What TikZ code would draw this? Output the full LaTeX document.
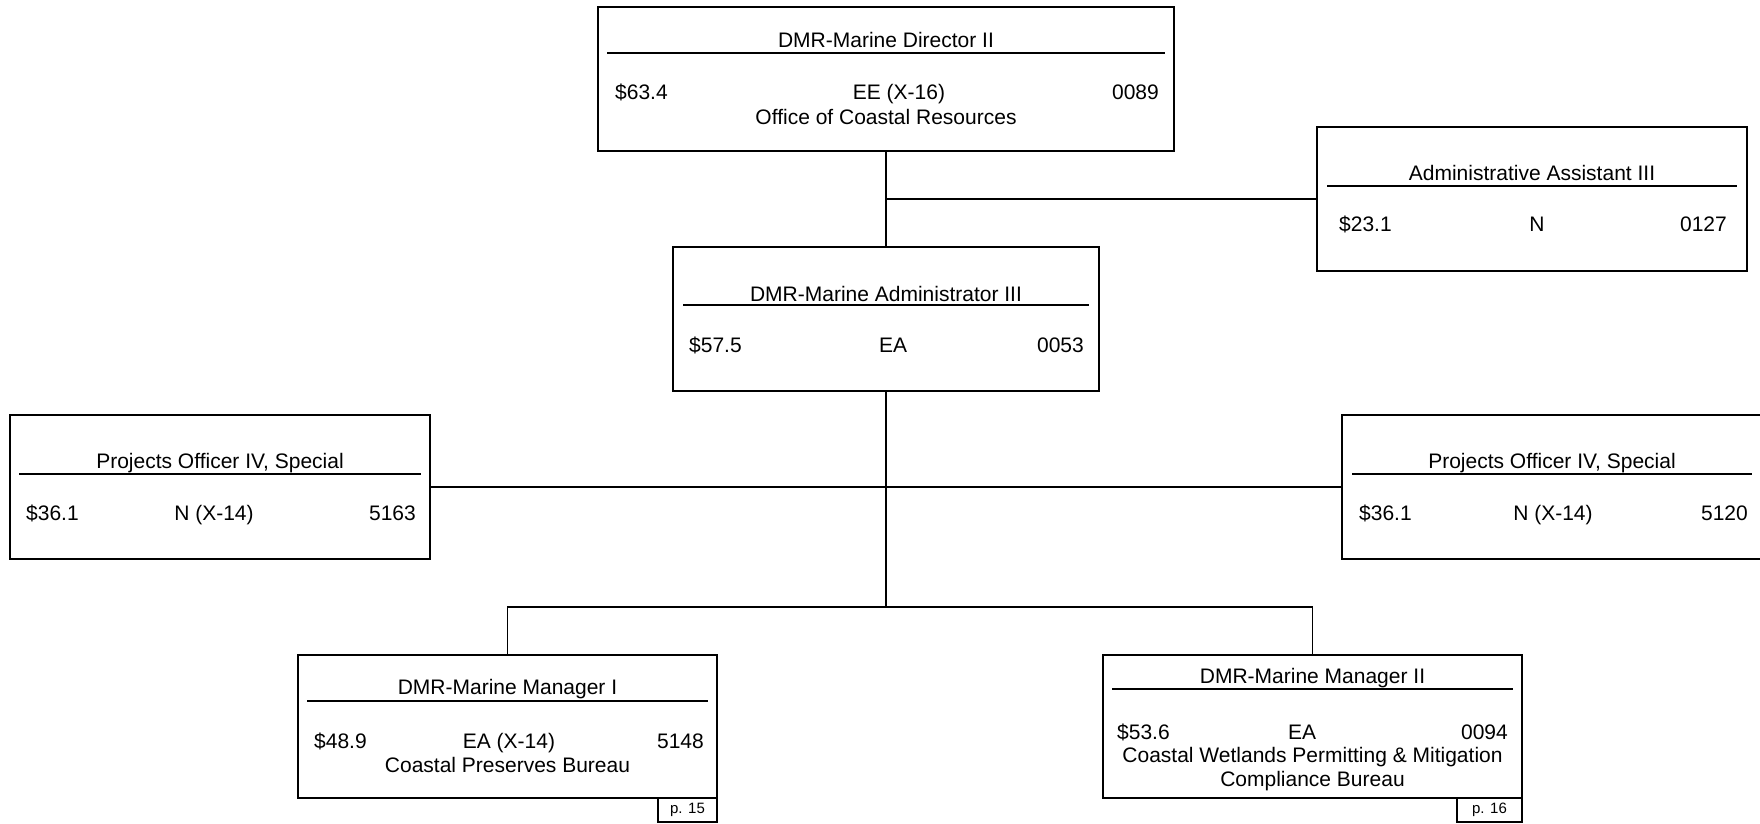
\documentclass[tikz,border=0pt]{standalone}
\usepackage{fontspec}
\setmainfont{Liberation Sans}
\begin{document}
\begin{tikzpicture}[x=1pt,y=-1pt,
  box/.style={draw, line width=1.8pt, rectangle, anchor=north west, inner sep=0pt, outer sep=0pt, minimum height=144pt},
  txt/.style={anchor=base, inner sep=0pt, font=\fontsize{21}{24}\selectfont},
  txl/.style={txt, anchor=base west},
  txr/.style={txt, anchor=base east},
  rulebar/.style={line width=1.7pt},
  conn/.style={line width=1.8pt},
  pbox/.style={draw, line width=1.3pt, rectangle, anchor=north west, inner sep=0pt, outer sep=0pt, minimum height=24pt, font=\fontsize{15}{18}\selectfont}
]
\clip (0,0) rectangle (1760,823);
\fill[white] (0,0) rectangle (1760,823);

% Director
\node[box, minimum width=576pt] (dir) at (598,7) {};
\node[txt] (dirT) at (886,47) {DMR-Marine Director II};
\draw[rulebar] (607,53) -- (1165,53);
\node[txl] (dirL) at (615,99) {\$63.4};
\node[txt] (dirM) at (899,99) {EE (X-16)};
\node[txr] (dirR) at (1159,99) {0089};
\node[txt] (dirS) at (886,124) {Office of Coastal Resources};

% Administrative Assistant
\node[box, minimum width=430pt] (asst) at (1317,127) {};
\node[txt] (asstT) at (1532,180) {Administrative Assistant III};
\draw[rulebar] (1327,186) -- (1737,186);
\node[txl] (asstL) at (1339,231) {\$23.1};
\node[txt] (asstM) at (1537,231) {N};
\node[txr] (asstR) at (1727,231) {0127};

% Administrator
\node[box, minimum width=426pt] (adm) at (673,247) {};
\node[txt] (admT) at (886,301) {DMR-Marine Administrator III};
\draw[rulebar] (683,305) -- (1089,305);
\node[txl] (admL) at (689,352) {\$57.5};
\node[txt] (admM) at (893,352) {EA};
\node[txr] (admR) at (1084,352) {0053};

% Projects Officer left
\node[box, minimum width=420pt] (projL) at (10,415) {};
\node[txt] (projLT) at (220,468) {Projects Officer IV, Special};
\draw[rulebar] (19,474) -- (421,474);
\node[txl] (projLL) at (26,520) {\$36.1};
\node[txt] (projLM) at (214,520) {N (X-14)};
\node[txr] (projLR) at (416,520) {5163};

% Projects Officer right
\node[box, minimum width=420pt] (projR) at (1342,415) {};
\node[txt] (projRT) at (1552,468) {Projects Officer IV, Special};
\draw[rulebar] (1352,474) -- (1752,474);
\node[txl] (projRL) at (1359,520) {\$36.1};
\node[txt] (projRM) at (1553,520) {N (X-14)};
\node[txr] (projRR) at (1748,520) {5120};

% Manager I
\node[box, minimum width=419pt, minimum height=143pt] (mgr1) at (298,655) {};
\node[txt] (mgr1T) at (507.5,694) {DMR-Marine Manager I};
\draw[rulebar] (307,701) -- (708,701);
\node[txl] (mgr1L) at (314,748) {\$48.9};
\node[txt] (mgr1M) at (509,748) {EA (X-14)};
\node[txr] (mgr1R) at (704,748) {5148};
\node[txt] (mgr1S) at (507.5,772) {Coastal Preserves Bureau};
\node[pbox, minimum width=59pt] (p15) at (658,798) {p. 15};

% Manager II
\node[box, minimum width=419pt, minimum height=143pt] (mgr2) at (1103,655) {};
\node[txt] (mgr2T) at (1312.5,683) {DMR-Marine Manager II};
\draw[rulebar] (1112,689) -- (1513,689);
\node[txl] (mgr2L) at (1117,739) {\$53.6};
\node[txt] (mgr2M) at (1302,739) {EA};
\node[txr] (mgr2R) at (1508,739) {0094};
\node[txt] (mgr2S) at (1312.5,762) {Coastal Wetlands Permitting \& Mitigation};
\node[txt] (mgr2U) at (1312.5,786) {Compliance Bureau};
\node[pbox, minimum width=65pt] (p16) at (1457,798) {p. 16};

% Connectors
\coordinate (br) at (886,607);
\draw[conn] (dir.south) -- (adm.north);
\draw[conn] (dir.south |- asst.west) -- (asst.west);
\draw[conn] (adm.south) -- (br);
\draw[conn] (projL.east) -- (projR.west);
\draw[conn] (mgr1.north) |- (br) -| (mgr2.north);
\end{tikzpicture}
\end{document}
